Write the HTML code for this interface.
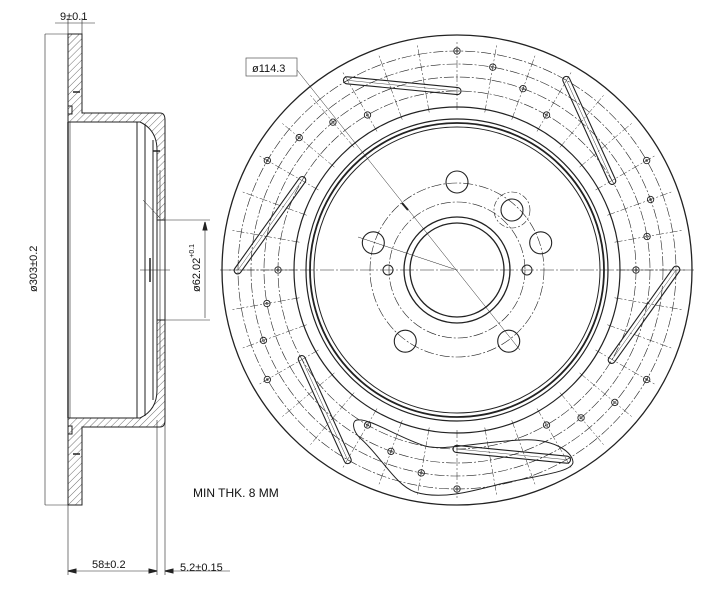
<!DOCTYPE html>
<html><head><meta charset="utf-8"><style>
html,body{margin:0;padding:0;background:#fff;}
svg{display:block;}
text{font-family:"Liberation Sans Narrow","Liberation Sans",sans-serif;fill:#111;}
</style></head><body>
<svg id="s" width="718" height="600" viewBox="0 0 718 600" xmlns="http://www.w3.org/2000/svg">
<defs>
<pattern id="h" patternUnits="userSpaceOnUse" width="5" height="5" patternTransform="rotate(45)">
<line x1="0" y1="0" x2="0" y2="5" stroke="#333" stroke-width="0.7"/>
</pattern>
</defs>
<g fill="none" stroke="#222" stroke-width="1">
<!-- LEFT SECTION VIEW -->
<path d="M68,34 H82 V113 H160 Q165,113 165,120 V220 H157 V150 Q157,130 140,122 H68 Z" fill="url(#h)"/>
<path d="M68,505 H82 V427 H160 Q165,427 165,420 V320 H157 V390 Q157,410 140,418 H68 Z" fill="url(#h)"/>
<line x1="68" y1="122" x2="68" y2="418" stroke-width="1.4"/>
<line x1="70" y1="122" x2="70" y2="418" stroke-width="0.6"/>
<line x1="137" y1="122" x2="137" y2="418"/>
<line x1="145" y1="124" x2="145" y2="416"/>
<line x1="153" y1="140" x2="153" y2="400"/>
<line x1="157" y1="220" x2="157" y2="320"/>
<line x1="160" y1="170" x2="160" y2="370" stroke-width="0.6"/>
<line x1="165" y1="220" x2="165" y2="320"/>
<rect x="68" y="106" width="4" height="8"/>
<rect x="68" y="426" width="4" height="8"/>
<line x1="73" y1="92" x2="80" y2="92" stroke-width="1.5"/>
<line x1="73" y1="454" x2="80" y2="454" stroke-width="1.5"/>
<line x1="153" y1="151" x2="160" y2="151" stroke-width="1.5"/>
<line x1="143" y1="200" x2="160" y2="218" stroke-width="0.5"/>
<line x1="150" y1="258" x2="150" y2="282" stroke-width="1.5"/>
<line x1="140" y1="270" x2="170" y2="270" stroke-width="0.5"/>
<!-- dims left -->
<g stroke-width="0.6">
<line x1="45" y1="34" x2="68" y2="34"/><line x1="45" y1="505" x2="68" y2="505"/><line x1="45" y1="34" x2="45" y2="505"/>
<line x1="68" y1="18" x2="68" y2="34"/><line x1="82" y1="18" x2="82" y2="34"/><line x1="55" y1="23" x2="95" y2="23"/>
<line x1="165" y1="220" x2="210" y2="220"/><line x1="165" y1="320" x2="210" y2="320"/><line x1="205" y1="222" x2="205" y2="318"/>
<line x1="68" y1="505" x2="68" y2="575"/><line x1="157" y1="420" x2="157" y2="575"/><line x1="165" y1="420" x2="165" y2="575"/>
<line x1="68" y1="571" x2="157" y2="571"/><line x1="165" y1="571" x2="230" y2="571"/>
</g>
<path d="M205,222 l-2,8 h4 z M68,571 l8,-2 v4 z M157,571 l-8,-2 v4 z M165,571 l8,-2 v4 z" fill="#222"/>
</g>
<text x="60" y="20" font-size="11">9±0.1</text>
<text transform="translate(37,292) rotate(-90)" font-size="11">ø303±0.2</text>
<text transform="translate(200,292) rotate(-90)" font-size="11">ø62.02<tspan font-size="7" dy="-6">+0.1</tspan></text>
<text x="92" y="568" font-size="11">58±0.2</text>
<text x="180" y="571" font-size="11">5.2±0.15</text>
<text x="193" y="497" font-size="12">MIN THK. 8 MM</text>
<!-- RIGHT VIEW -->
<g id="d" fill="none" stroke="#222" stroke-width="1"></g>
<rect x="246" y="58" width="51" height="18" fill="#fff" stroke="#555" stroke-width="0.7"/>
<text x="252" y="72" font-size="11">ø114.3</text>
</svg>
<script>
var g=document.getElementById('d'),cx=457,cy=270,NS="http://www.w3.org/2000/svg";
function el(t,a){var e=document.createElementNS(NS,t);for(var k in a)e.setAttribute(k,a[k]);g.appendChild(e);return e;}
function P(r,a){a=a*Math.PI/180;return [cx+r*Math.cos(a),cy+r*Math.sin(a)];}
el('circle',{cx:cx,cy:cy,r:235,'stroke-width':1.3});
el('circle',{cx:cx,cy:cy,r:163,'stroke-width':1.2});
el('circle',{cx:cx,cy:cy,r:151,'stroke-width':1.2});
el('circle',{cx:cx,cy:cy,r:147,'stroke-width':1.8});
el('circle',{cx:cx,cy:cy,r:143,'stroke-width':1});
[179,193,206,219].forEach(function(r){el('circle',{cx:cx,cy:cy,r:r,'stroke-width':0.6,'stroke-dasharray':'10 2 2 2'});});
for(var a=0;a<360;a+=10){var p=P(160,a),q=P(230,a);el('line',{x1:p[0],y1:p[1],x2:q[0],y2:q[1],'stroke-width':0.5,'stroke-dasharray':'8 2 2 2'});}
for(var k=0;k<6;k++){var t=k*60;
 var p=P(219,t),q=P(179,t+30);
 var dx=q[0]-p[0],dy=q[1]-p[1],L=Math.hypot(dx,dy),ang=Math.atan2(dy,dx)*180/Math.PI;
 el('rect',{x:-4,y:-3.5,width:L+8,height:7,rx:3.5,transform:'translate('+p[0]+','+p[1]+') rotate('+ang+')','stroke-width':1.1});
 el('line',{x1:0,y1:0,x2:L,y2:0,transform:'translate('+p[0]+','+p[1]+') rotate('+ang+')','stroke-width':0.4});
 [[219,30],[206,40],[193,50],[179,60]].forEach(function(d){var c=P(d[0],t+d[1]);el('circle',{cx:c[0],cy:c[1],r:3.2,'stroke-width':0.9});el('circle',{cx:c[0],cy:c[1],r:1.2,'stroke-width':0.5});});
}
// hub
el('circle',{cx:cx,cy:cy,r:53,'stroke-width':1.3});
el('circle',{cx:cx,cy:cy,r:47,'stroke-width':1.3});
el('circle',{cx:cx,cy:cy,r:68,'stroke-width':0.6,'stroke-dasharray':'10 2 2 2'});
el('circle',{cx:cx,cy:cy,r:87,'stroke-width':0.6,'stroke-dasharray':'10 2 2 2'});
for(var i=0;i<5;i++){var c=P(88,-90+72*i);el('circle',{cx:c[0],cy:c[1],r:11,'stroke-width':1.1});}
el('circle',{cx:512,cy:210,r:11,'stroke-width':1.1});
el('circle',{cx:512,cy:210,r:18,'stroke-width':0.6,'stroke-dasharray':'6 2 2 2'});
el('circle',{cx:388,cy:270,r:5,'stroke-width':1});el('circle',{cx:527,cy:270,r:5,'stroke-width':1});
el('line',{x1:220,y1:270,x2:695,y2:270,'stroke-width':0.6,'stroke-dasharray':'14 2 2 2'});
el('line',{x1:297,y1:70,x2:520,y2:350,'stroke-width':0.5});
el('line',{x1:358,y1:237,x2:457,y2:270,'stroke-width':0.5});
el('line',{x1:402,y1:203,x2:408,y2:210,'stroke-width':2});
el('path',{d:'M357,420 C370,418 395,436 425,446 C445,451 470,443 520,440 C550,438 572,450 573,462 C573,472 540,475 500,484 C470,492 440,500 415,492 C395,485 380,455 360,438 C352,430 352,421 357,420 Z','stroke-width':1});
</script>
</body></html>
